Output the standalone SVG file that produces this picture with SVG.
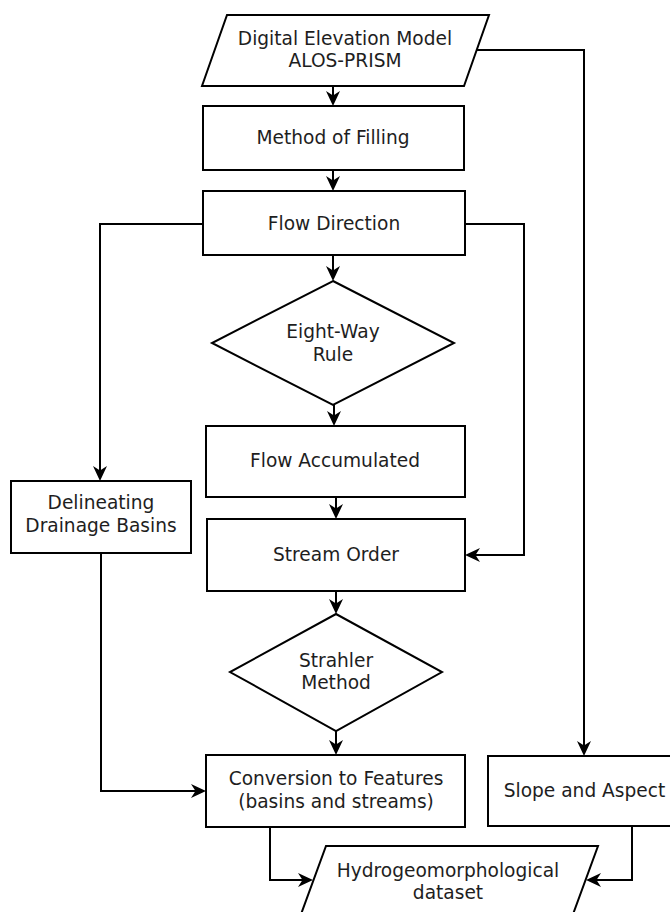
<svg xmlns="http://www.w3.org/2000/svg" width="670" height="912" viewBox="0 0 670 912">
  <style>
    .shape { fill: #ffffff; stroke: #000000; stroke-width: 2; }
    .label { font-family: "DejaVu Sans", "Liberation Sans", sans-serif; font-size: 18.6px; fill: #1e1e1e; text-anchor: middle; }
    .link { fill: none; stroke: #000000; stroke-width: 2; marker-end: url(#arrow); }
  </style>
  <defs>
    <marker id="arrow" markerUnits="userSpaceOnUse" markerWidth="18" markerHeight="16" refX="12" refY="7" orient="auto">
      <path d="M0,0 L15,7 L0,14 L4.5,7 Z" fill="#000000"/>
    </marker>
  </defs>
  <rect width="670" height="912" fill="#ffffff"/>

  <g id="connectors">
    <path class="link" d="M333,86 V103"/>
    <path class="link" d="M333,170 V188"/>
    <path class="link" d="M333,255 V278"/>
    <path class="link" d="M334,405 V423"/>
    <path class="link" d="M336,497 V516"/>
    <path class="link" d="M336,591 V611"/>
    <path class="link" d="M336,731 V752"/>
    <path class="link" d="M476,50 H584 V753"/>
    <path class="link" d="M203,224 H100 V478"/>
    <path class="link" d="M465,224 H524 V555 H468"/>
    <path class="link" d="M101,553 V791 H203"/>
    <path class="link" d="M270,827 V880 H310"/>
    <path class="link" d="M632,826 V880 H589"/>
  </g>

  <g id="dem">
    <polygon class="shape" points="227,15 489,15 464,86 202,86"/>
    <text class="label" x="345" y="45">Digital Elevation Model</text>
    <text class="label" x="345" y="67">ALOS-PRISM</text>
  </g>

  <g id="filling">
    <rect class="shape" x="203" y="106" width="261" height="64"/>
    <text class="label" x="333" y="144">Method of Filling</text>
  </g>

  <g id="flow-direction">
    <rect class="shape" x="203" y="191" width="262" height="64"/>
    <text class="label" x="334" y="230">Flow Direction</text>
  </g>

  <g id="eight-way">
    <polygon class="shape" points="333,281 454,343 333,405 212,343"/>
    <text class="label" x="333" y="338">Eight-Way</text>
    <text class="label" x="333" y="361">Rule</text>
  </g>

  <g id="flow-accumulated">
    <rect class="shape" x="206" y="426" width="259" height="71"/>
    <text class="label" x="335" y="467">Flow Accumulated</text>
  </g>

  <g id="stream-order">
    <rect class="shape" x="207" y="519" width="258" height="72"/>
    <text class="label" x="336" y="561">Stream Order</text>
  </g>

  <g id="strahler">
    <polygon class="shape" points="336,614 442,672 336,731 230,672"/>
    <text class="label" x="336" y="667">Strahler</text>
    <text class="label" x="336" y="689">Method</text>
  </g>

  <g id="basins">
    <rect class="shape" x="11" y="481" width="180" height="72"/>
    <text class="label" x="101" y="509">Delineating</text>
    <text class="label" x="101" y="532">Drainage Basins</text>
  </g>

  <g id="conversion">
    <rect class="shape" x="206" y="755" width="259" height="72"/>
    <text class="label" x="336" y="785">Conversion to Features</text>
    <text class="label" x="336" y="808">(basins and streams)</text>
  </g>

  <g id="slope">
    <rect class="shape" x="488" y="756" width="192" height="70"/>
    <text class="label" x="584.5" y="797">Slope and Aspect</text>
  </g>

  <g id="dataset">
    <polygon class="shape" points="326,846 598,846 572,917 300,917"/>
    <text class="label" x="448" y="877">Hydrogeomorphological</text>
    <text class="label" x="448" y="899">dataset</text>
  </g>
</svg>
